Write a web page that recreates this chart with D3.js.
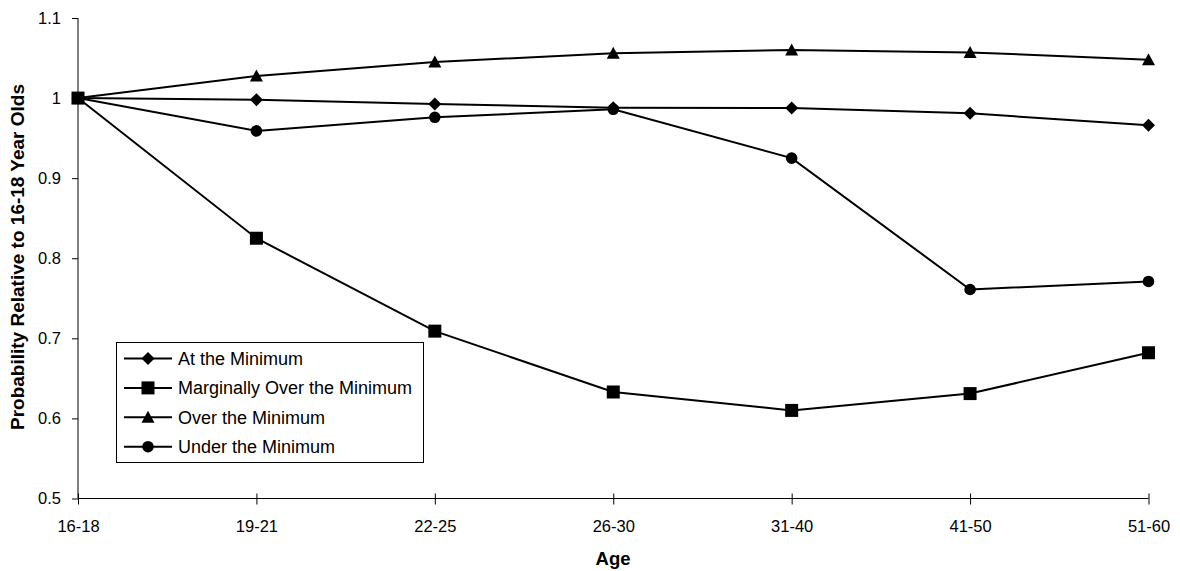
<!DOCTYPE html>
<html><head><meta charset="utf-8">
<script src="https://cdn.jsdelivr.net/npm/d3@7"></script>
<style>body{margin:0;background:#fff}svg{display:block}text{font-family:"Liberation Sans",Arial,sans-serif;fill:#000}</style>
</head><body><svg id="c" width="1180" height="571"></svg>
<script>
const categories = ["16-18","19-21","22-25","26-30","31-40","41-50","51-60"];
const atMinimum = [1, 0.998, 0.9925, 0.988, 0.9875, 0.981, 0.966];
const marginallyOver = [1, 0.825, 0.709, 0.633, 0.61, 0.631, 0.682];
const overMinimum = [1, 1.0275, 1.045, 1.056, 1.06, 1.057, 1.048];
const underMinimum = [1, 0.959, 0.976, 0.986, 0.925, 0.761, 0.771];
const seriesNames = ["At the Minimum","Marginally Over the Minimum","Over the Minimum","Under the Minimum"];
const yTicks = [0.5,0.6,0.7,0.8,0.9,1.0,1.1];

const series = [
  {name: seriesNames[0], values: atMinimum, marker: "diamond"},
  {name: seriesNames[1], values: marginallyOver, marker: "square"},
  {name: seriesNames[2], values: overMinimum, marker: "triangle"},
  {name: seriesNames[3], values: underMinimum, marker: "circle"}
];

const svg = d3.select("#c");
const x = d3.scalePoint().domain(categories).range([78, 1148.5]);
const y = d3.scaleLinear().domain([0.5, 1.1]).range([498.5, 18]);

// y axis
const yAxis = svg.append("g").attr("transform","translate(78,0)")
  .call(d3.axisLeft(y).tickValues(yTicks).tickSize(6).tickPadding(11).tickFormat(d => String(+d.toFixed(1))));
yAxis.select(".domain").attr("stroke","#000").attr("d","M0,18V498.5");
yAxis.selectAll("text").style("font-size","16.5px");

// x axis
const xAxis = svg.append("g").attr("transform","translate(0,498.5)")
  .call(d3.axisBottom(x).tickSize(6).tickPadding(15.5));
xAxis.select(".domain").attr("d","M78,0H1148.5").attr("stroke","#000");
xAxis.selectAll(".tick line").attr("y1",-5).attr("y2",6);
xAxis.selectAll("text").style("font-size","16.5px");

// titles
svg.append("text").attr("x",613).attr("y",565).attr("text-anchor","middle")
  .style("font-size","18.5px").style("font-weight","bold").text("Age");
svg.append("text").attr("transform","translate(24,257) rotate(-90)").attr("text-anchor","middle")
  .style("font-size","19px").style("font-weight","bold").text("Probability Relative to 16-18 Year Olds");

function markerPath(type){
  switch(type){
    case "diamond": return "M0,-6.5L6.5,0L0,6.5L-6.5,0Z";
    case "square": return "M-6.5,-6.5H6.5V6.5H-6.5Z";
    case "triangle": return "M0,-6.5L6.5,5.5H-6.5Z";
    case "circle": return d3.symbol(d3.symbolCircle, Math.PI*5.8*5.8)();
  }
}

const line = d3.line().x((d,i)=>x(categories[i])).y(d=>y(d));
const g = svg.append("g");
series.forEach(s => {
  g.append("path").datum(s.values).attr("d", line).attr("fill","none").attr("stroke","#000").attr("stroke-width",2);
});
series.forEach(s => {
  g.selectAll(null).data(s.values).enter().append("path")
    .attr("transform",(d,i)=>`translate(${x(categories[i])},${y(d)})`)
    .attr("d", markerPath(s.marker)).attr("fill","#000");
});

// legend
const lg = svg.append("g");
lg.append("rect").attr("x",116.5).attr("y",342.5).attr("width",307).attr("height",120)
  .attr("fill","#fff").attr("stroke","#000").attr("stroke-width",1);
series.forEach((s,i) => {
  const yy = 358.5 + i*29.4;
  lg.append("line").attr("x1",124).attr("x2",172).attr("y1",yy).attr("y2",yy).attr("stroke","#000").attr("stroke-width",2);
  lg.append("path").attr("transform",`translate(148,${yy})`).attr("d",markerPath(s.marker)).attr("fill","#000");
  lg.append("text").attr("x",178).attr("y",yy).attr("dy","0.36em").style("font-size","18px").text(s.name);
});
</script></body></html>
